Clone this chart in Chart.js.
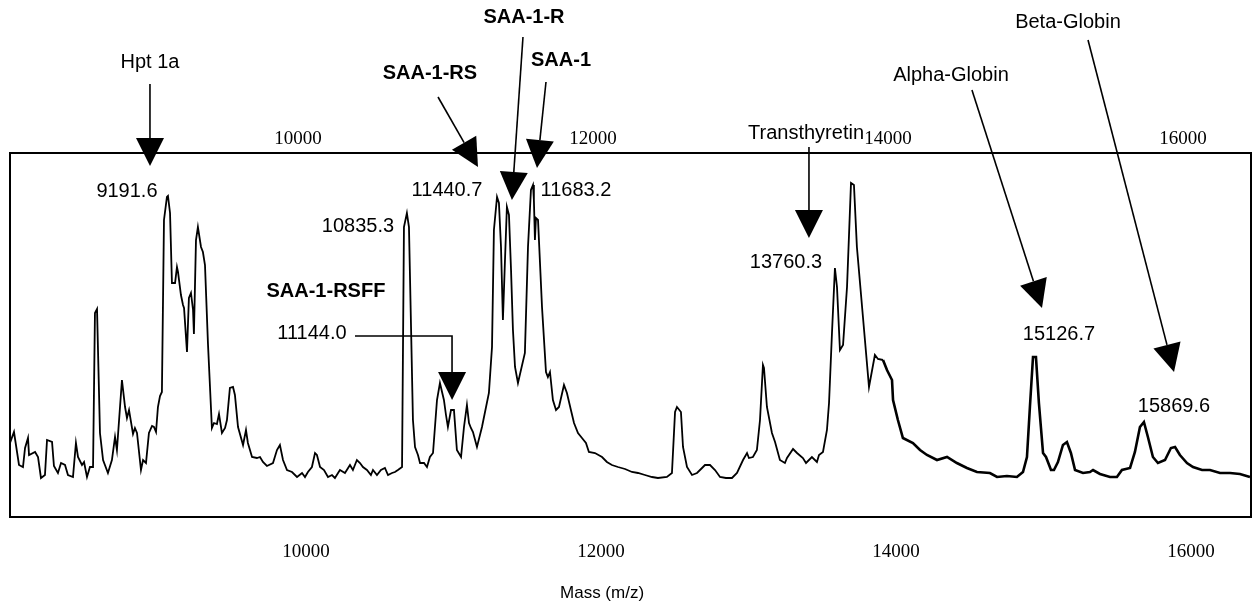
<!DOCTYPE html>
<html>
<head>
<meta charset="utf-8">
<script src="https://cdn.jsdelivr.net/npm/chart.js@4.4.1/dist/chart.umd.min.js"></script>
<style>
  html, body { margin: 0; padding: 0; background: #fff; }
</style>
</head>
<body>
<canvas id="spectrum" width="1253" height="607"></canvas>
<script>
// mass (Da) and intensity (arbitrary units), left to right
const massA = [7993, 8020, 8054, 8081, 8095, 8115, 8122, 8163, 8183, 8203,
  8230, 8244, 8278, 8291, 8318, 8339, 8366, 8386, 8420, 8440,
  8454, 8481, 8495, 8515, 8535, 8556, 8569, 8583, 8603, 8624,
  8657, 8684, 8705, 8718, 8752, 8773, 8786, 8800, 8827, 8840,
  8854, 8881, 8895, 8915, 8935, 8956, 8969, 8983, 8996, 9010,
  9023, 9037, 9057, 9064, 9078, 9091, 9112, 9125, 9132, 9152,
  9166, 9173, 9193, 9206, 9220, 9234, 9240, 9254, 9267, 9288,
  9301, 9315, 9335, 9362, 9376, 9396, 9410, 9430, 9451, 9464,
  9484, 9505, 9518, 9539, 9573, 9593, 9606, 9634, 9667];
const intA = [74, 85, 52, 50, 69, 79, 62, 65, 60, 39,
  42, 77, 75, 51, 44, 54, 52, 42, 40, 74,
  60, 52, 55, 40, 50, 50, 204, 208, 84, 57,
  44, 57, 80, 67, 137, 110, 99, 107, 83, 89,
  84, 47, 57, 54, 84, 91, 90, 85, 110, 121,
  125, 297, 320, 321, 304, 234, 234, 250, 245, 222,
  212, 209, 165, 219, 224, 207, 183, 277, 290, 270,
  265, 252, 174, 89, 94, 93, 103, 84, 89, 97,
  129, 130, 122, 90, 72, 87, 74, 60, 59];

const massB = [9688, 9708, 9735, 9776, 9803, 9823, 9844, 9871, 9905, 9939,
  9973, 9993, 10013, 10040, 10061, 10074, 10095, 10122, 10149, 10176,
  10196, 10230, 10264, 10298, 10318, 10345, 10366, 10386, 10413, 10440,
  10454, 10481, 10508, 10535, 10556, 10583, 10603, 10623, 10651, 10664,
  10684, 10698, 10712, 10725, 10739, 10759, 10773, 10800, 10820, 10840,
  10861, 10888, 10908, 10935, 10949, 10962, 10983, 11003, 11023, 11051,
  11071, 11091, 11105, 11118, 11132, 11159, 11193, 11240, 11261, 11274,
  11295, 11308, 11322, 11335, 11349, 11362, 11376, 11390];
const intB = [60, 55, 51, 54, 67, 72, 57, 47, 45, 40,
  44, 40, 45, 50, 64, 62, 50, 47, 40, 42,
  39, 47, 44, 52, 47, 57, 54, 50, 47, 42,
  47, 42, 47, 49, 42, 44, 45, 47, 50, 290,
  304, 290, 190, 97, 70, 62, 54, 54, 50, 60,
  64, 117, 134, 117, 102, 90, 107, 107, 67, 60,
  90, 112, 94, 89, 85, 70, 90, 124, 170, 287,
  320, 314, 270, 197, 257, 310, 302, 247];

const massC = [11403, 11417, 11437, 11484, 11505, 11525, 11539, 11545, 11552, 11559,
  11573, 11600, 11627, 11640, 11654, 11674, 11695, 11715, 11749, 11769,
  11796, 11817, 11844, 11871, 11898, 11918, 11959, 12007, 12040, 12074,
  12115, 12163, 12210, 12251, 12298, 12346, 12386, 12447, 12481, 12502,
  12515, 12542, 12556, 12583, 12617, 12651, 12685, 12705, 12739, 12773,
  12807, 12847, 12888, 12922, 12963, 12990, 13003, 13030, 13057];
const intC = [187, 150, 134, 164, 270, 327, 332, 317, 277, 299,
  297, 210, 145, 140, 145, 117, 107, 110, 132, 124,
  107, 94, 84, 79, 74, 65, 64, 60, 55, 52,
  50, 48, 45, 44, 42, 40, 39, 40, 44, 105,
  110, 105, 70, 50, 42, 44, 49, 52, 52, 47,
  40, 39, 39, 44, 57, 64, 59, 60, 67];

const massD = [13078, 13098, 13105, 13125, 13159, 13180, 13213, 13247, 13261, 13302,
  13329, 13369, 13390, 13430, 13464, 13478, 13505, 13532, 13546, 13566,
  13586, 13600, 13620, 13641, 13668, 13695, 13715, 13735, 13776, 13817,
  13857, 13878, 13912, 13939, 13973, 13980, 14013, 14047, 14115, 14163,
  14210, 14278, 14346, 14413, 14481, 14549, 14637, 14685, 14752];
const intD = [97, 152, 149, 110, 84, 75, 57, 54, 59, 68,
  64, 59, 54, 60, 55, 62, 65, 87, 114, 184,
  249, 230, 167, 172, 230, 334, 332, 270, 200, 130,
  162, 158, 157, 147, 137, 117, 97, 79, 74, 67,
  62, 57, 60, 54, 49, 45, 44, 40, 41];

const massE = [14820, 14861, 14888, 14908, 14929, 14949, 14969, 14997, 15017, 15051,
  15071, 15098, 15132, 15159, 15186, 15214, 15268, 15315, 15336, 15383,
  15451, 15498, 15532, 15587, 15620, 15654, 15681, 15708, 15742, 15776,
  15824, 15864, 15892, 15925, 15973, 16014, 16075, 16129, 16197, 16265,
  16332, 16400];
const intE = [40, 45, 60, 110, 160, 160, 114, 64, 60, 47,
  47, 55, 72, 75, 64, 47, 44, 45, 47, 43,
  40, 40, 47, 49, 65, 90, 95, 80, 60, 54,
  57, 69, 70, 62, 54, 50, 47, 47, 44, 44,
  43, 40];

const massTicks = [10000, 12000, 14000, 16000];
const axisTitle = "Mass (m/z)";
const axisTitleAt = [12007, -76];

// annotations, anchored in (mass, intensity)
const peakLabels = ["9191.6", "10835.3", "11440.7", "11683.2", "11144.0", "13760.3", "15126.7", "15869.6"];
const peakLabelAt = [[8786, 326], [10352, 291], [10956, 327], [11830, 327], [10040, 184], [13254, 255], [15105, 183], [15885, 111]];
const proteinNames = ["Hpt 1a", "SAA-1-RS", "SAA-1-R", "SAA-1", "SAA-1-RSFF", "Transthyretin", "Alpha-Globin", "Beta-Globin"];
const proteinBold = [false, true, true, true, true, false, false, false];
const proteinAt = [[8942, 455], [10840, 444], [11478, 500], [11729, 457], [10135, 226], [13390, 384], [14373, 442], [15166, 495]];
const arrowPaths = [
  [[8942, 433], [8942, 351]],
  [[10895, 420], [11166, 350]],
  [[11471, 480], [11396, 317]],
  [[11627, 435], [11566, 349]],
  [[10332, 181], [10990, 181], [10990, 117]],
  [[13410, 370], [13410, 279]],
  [[14515, 427], [14990, 209]],
  [[15302, 477], [15885, 145]]
];

const mass = [...massA, ...massB, ...massC, ...massD, ...massE];
const intensity = [...intA, ...intB, ...intC, ...intD, ...intE];
const points = mass.map((m, i) => ({ x: m, y: intensity[i] }));

const SANS = "'Liberation Sans', Arial, sans-serif";
const SERIF = "'Liberation Serif', 'Times New Roman', serif";

const notes = {
  id: "notes",
  afterDraw(chart) {
    const { ctx, chartArea, scales } = chart;
    const px = (p) => [scales.x.getPixelForValue(p[0]), scales.y.getPixelForValue(p[1])];
    ctx.save();

    // frame
    ctx.strokeStyle = "#000";
    ctx.lineWidth = 2;
    ctx.strokeRect(chartArea.left, chartArea.top, chartArea.right - chartArea.left, chartArea.bottom - chartArea.top);

    // arrows
    ctx.fillStyle = "#000";
    ctx.lineWidth = 1.6;
    arrowPaths.forEach((path) => {
      const pts = path.map(px);
      const [tx, ty] = pts[pts.length - 1];
      const [qx, qy] = pts[pts.length - 2];
      const a = Math.atan2(ty - qy, tx - qx);
      const len = 28, half = 14;
      const bx = tx - len * Math.cos(a), by = ty - len * Math.sin(a);
      ctx.beginPath();
      ctx.moveTo(pts[0][0], pts[0][1]);
      for (let i = 1; i < pts.length - 1; i++) ctx.lineTo(pts[i][0], pts[i][1]);
      ctx.lineTo(bx, by);
      ctx.stroke();
      ctx.beginPath();
      ctx.moveTo(tx, ty);
      ctx.lineTo(bx + half * Math.sin(a), by - half * Math.cos(a));
      ctx.lineTo(bx - half * Math.sin(a), by + half * Math.cos(a));
      ctx.closePath();
      ctx.fill();
    });

    // text
    ctx.textAlign = "center";
    ctx.textBaseline = "middle";
    ctx.font = "20px " + SANS;
    peakLabels.forEach((t, i) => {
      const [x, y] = px(peakLabelAt[i]);
      ctx.fillText(t, x, y);
    });
    proteinNames.forEach((t, i) => {
      const [x, y] = px(proteinAt[i]);
      ctx.font = (proteinBold[i] ? "bold " : "") + "20px " + SANS;
      ctx.fillText(t, x, y);
    });

    // x axis title sits under the 12000 tick in the original
    ctx.font = "17px " + SANS;
    const [tx, ty] = px(axisTitleAt);
    ctx.fillText(axisTitle, tx, ty);
    ctx.restore();
  }
};

new Chart(document.getElementById("spectrum"), {
  type: "line",
  data: {
    datasets: [{
      data: points,
      borderColor: "#000",
      borderWidth: 2,
      pointRadius: 0,
      tension: 0,
      fill: false,
      segment: {
        borderWidth: (c) => (c.p0.parsed.x > 13900 ? 2.6 : 1.8)
      }
    }]
  },
  options: {
    responsive: false,
    animation: false,
    events: [],
    layout: { padding: { left: 10, right: 2, top: 0, bottom: 0 } },
    plugins: { legend: { display: false }, tooltip: { enabled: false } },
    scales: {
      x: {
        type: "linear",
        position: "bottom",
        min: 7993,
        max: 16407,
        grid: { display: false, drawTicks: false },
        border: { display: false },
        ticks: {
          color: "#000",
          font: { family: SERIF, size: 19 },
          padding: 24,
          maxRotation: 0,
          callback: (v) => String(v)
        },
        afterBuildTicks: (s) => { s.ticks = massTicks.map((v) => ({ value: v })); },
        afterFit: (s) => { s.height = 90; }
      },
      xTop: {
        type: "linear",
        position: "top",
        min: 8047,
        max: 16461,
        grid: { display: false, drawTicks: false },
        border: { display: false },
        ticks: {
          color: "#000",
          font: { family: SERIF, size: 19 },
          padding: 3,
          maxRotation: 0,
          callback: (v) => String(v)
        },
        afterBuildTicks: (s) => { s.ticks = massTicks.map((v) => ({ value: v })); },
        afterFit: (s) => { s.height = 153; }
      },
      y: { display: false, min: 0, max: 364 }
    }
  },
  plugins: [notes]
});
</script>
</body>
</html>
